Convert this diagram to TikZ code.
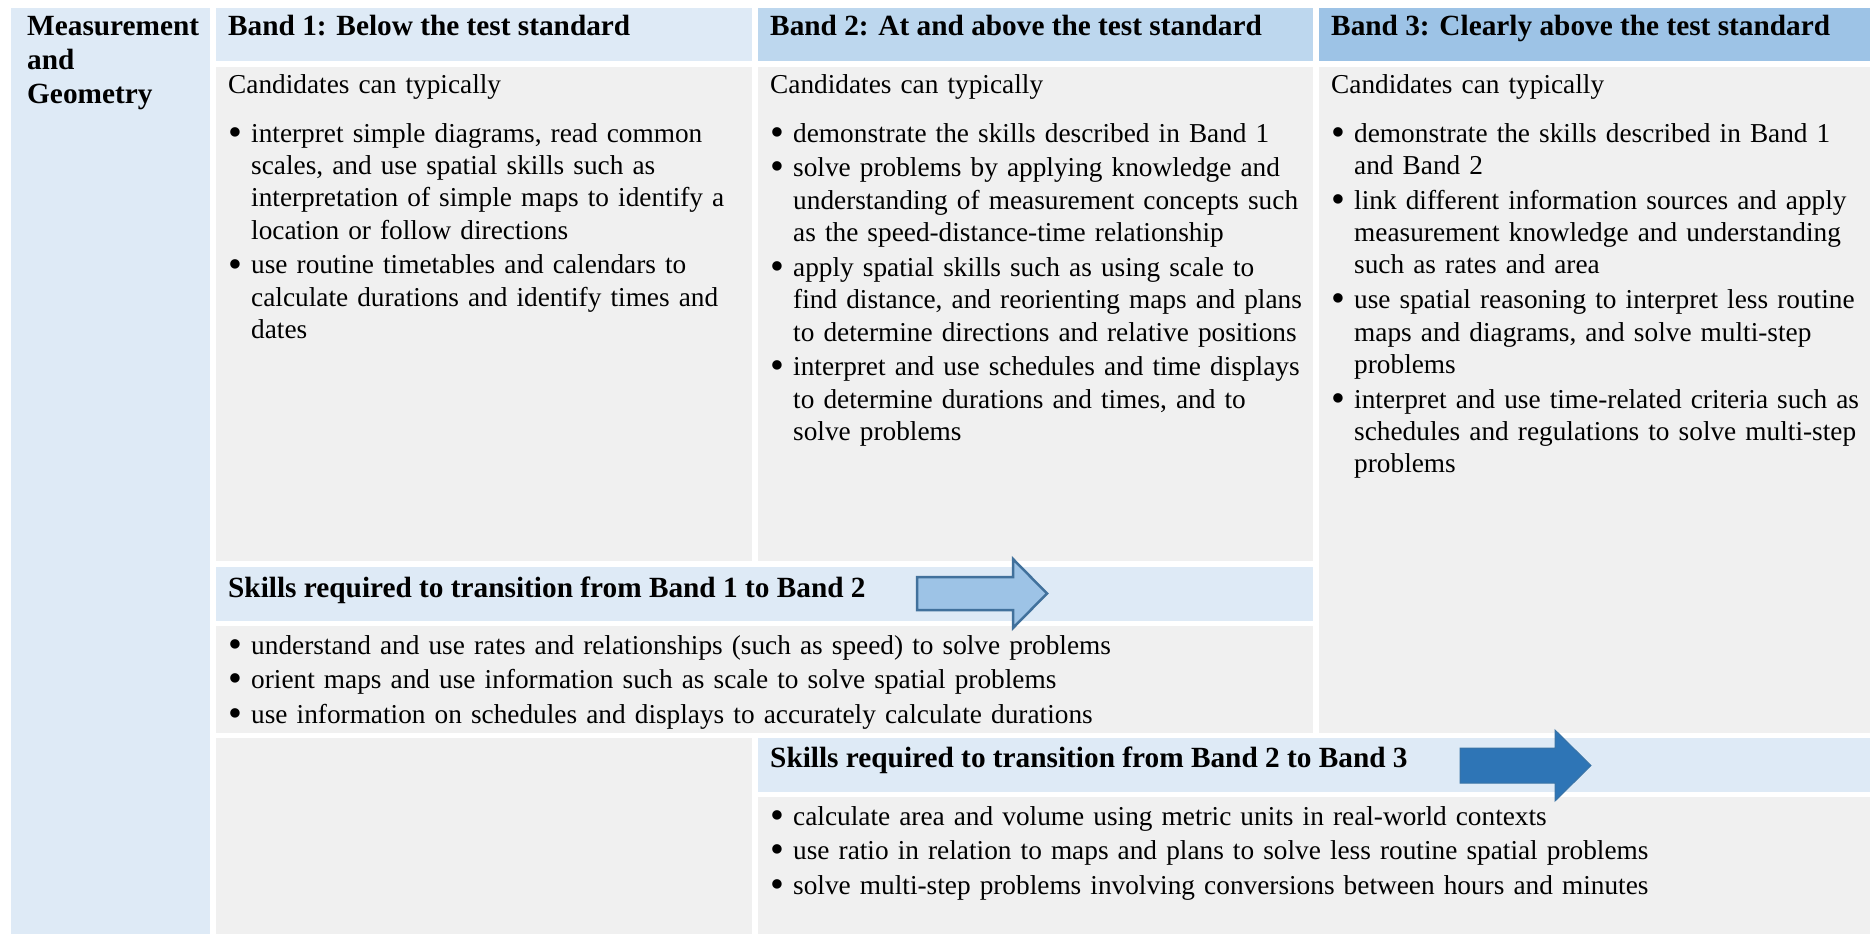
\documentclass[tikz,border=0pt]{standalone}
\usepackage{fontspec}
\usepackage{graphicx}
\setmainfont{Liberation Serif}
\definecolor{paleblue}{HTML}{DEEAF6}
\definecolor{midblue}{HTML}{BDD7EE}
\definecolor{deepblue}{HTML}{9DC3E6}
\definecolor{cellgrey}{HTML}{F0F0F0}
\definecolor{arrowline}{HTML}{41719C}
\definecolor{arrowfill}{HTML}{2E75B6}
\newcommand{\bodyfont}{\fontsize{27.3}{32.4}\selectfont\hyphenpenalty=10000\relax\setlength{\parskip}{2.3pt}}
\newcommand{\bitem}{\noindent\hangindent=23pt\relax\hangafter=1\relax\makebox[23pt][l]{\raisebox{-0.12em}{\scalebox{1.45}{\textbullet}}}}
\newcommand{\bpt}{\par\bitem}
\begin{document}
\begin{tikzpicture}[x=1pt, y=-1pt,
  head/.style = {anchor=base west, inner sep=0pt, align=left, font=\bfseries\fontsize{29.3}{33.7}\selectfont},
  body/.style = {anchor=base west, inner sep=0pt, align=left, text width=#1, font=\bodyfont},
  arrowA/.style = {fill=deepblue, draw=arrowline, line width=2.5pt, line join=miter},
  arrowB/.style = {fill=arrowfill, draw=arrowline!60!arrowfill, line width=1pt, line join=miter}]
  \useasboundingbox (0,0) rectangle (1870,934);
  % cells
  \fill[paleblue] (11,8) rectangle (210,934);
  \fill[paleblue] (216,8) rectangle (752,61);
  \fill[midblue] (758,8) rectangle (1313,61);
  \fill[deepblue] (1319,8) rectangle (1870,61);
  \fill[cellgrey] (216,67) rectangle (752,561);
  \fill[cellgrey] (758,67) rectangle (1313,561);
  \fill[cellgrey] (1319,67) rectangle (1870,733);
  \fill[paleblue] (216,567) rectangle (1313,621);
  \fill[cellgrey] (216,626) rectangle (1313,733);
  \fill[cellgrey] (216,738) rectangle (752,934);
  \fill[paleblue] (758,738) rectangle (1870,792);
  \fill[cellgrey] (758,797) rectangle (1870,934);
  % headings
  \node[head, text width=180] (topic) at (27,36) {Measurement\\and\\Geometry};
  \node[head] (bandone) at (228,36) {Band 1: Below the test standard};
  \node[head] (bandtwo) at (770,36) {Band 2: At and above the test standard};
  \node[head] (bandthree) at (1331,36) {Band 3: Clearly above the test standard};
  \node[body=600] (leadone) at (228,93) {Candidates can typically};
  \node[body=600] (leadtwo) at (770,93) {Candidates can typically};
  \node[body=600] (leadthree) at (1331,93) {Candidates can typically};
  % band lists
  \node[body=600] (listone) at (228,142) {\bitem interpret simple diagrams, read common\newline scales, and use spatial skills such as\newline interpretation of simple maps to identify a\newline location or follow directions
    \bpt use routine timetables and calendars to\newline calculate durations and identify times and\newline dates\par};
  \node[body=600] (listtwo) at (770,142) {\bitem demonstrate the skills described in Band 1
    \bpt solve problems by applying knowledge and\newline understanding of measurement concepts such\newline as the speed-distance-time relationship
    \bpt apply spatial skills such as using scale to\newline find distance, and reorienting maps and plans\newline to determine directions and relative positions
    \bpt interpret and use schedules and time displays\newline to determine durations and times, and to\newline solve problems\par};
  \node[body=600] (listthree) at (1331,142) {\bitem demonstrate the skills described in Band 1\newline and Band 2
    \bpt link different information sources and apply\newline measurement knowledge and understanding\newline such as rates and area
    \bpt use spatial reasoning to interpret less routine\newline maps and diagrams, and solve multi-step\newline problems
    \bpt interpret and use time-related criteria such as\newline schedules and regulations to solve multi-step\newline problems\par};
  % transitions
  \node[head] (stepone) at (228,597) {Skills required to transition from Band 1 to Band 2};
  \node[body=1200] (stepolist) at (228,654) {\bitem understand and use rates and relationships (such as speed) to solve problems
    \bpt orient maps and use information such as scale to solve spatial problems
    \bpt use information on schedules and displays to accurately calculate durations\par};
  \node[head] (steptwo) at (770,767) {Skills required to transition from Band 2 to Band 3};
  \node[body=1200] (steptlist) at (770,825) {\bitem calculate area and volume using metric units in real-world contexts
    \bpt use ratio in relation to maps and plans to solve less routine spatial problems
    \bpt solve multi-step problems involving conversions between hours and minutes\par};
  % arrows
  \draw[arrowA] (917,577) -- (1013,577) -- (1013,559) -- (1047,593.5) -- (1013,628) -- (1013,610) -- (917,610) -- cycle;
  \draw[arrowB] (1460,748) -- (1555,748) -- (1555,730) -- (1591,765.5) -- (1555,801) -- (1555,783) -- (1460,783) -- cycle;
\end{tikzpicture}
\end{document}
